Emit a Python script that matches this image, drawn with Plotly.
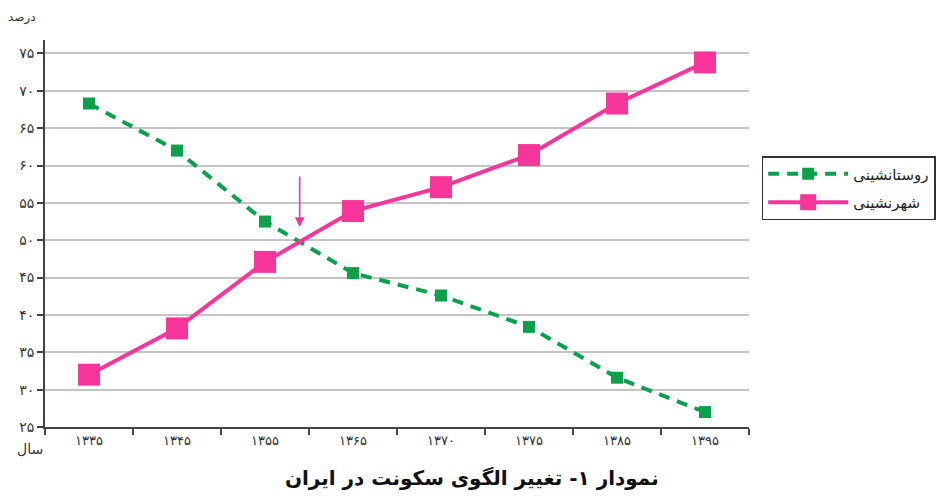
import plotly.graph_objects as go

# ---- data ----
years = ["۱۳۳۵", "۱۳۴۵", "۱۳۵۵", "۱۳۶۵", "۱۳۷۰", "۱۳۷۵", "۱۳۸۵", "۱۳۹۵"]
rural = [68.3, 62.0, 52.5, 45.6, 42.6, 38.4, 31.6, 27.0]     # روستانشینی
urban = [32.0, 38.2, 47.1, 53.9, 57.1, 61.4, 68.3, 73.8]     # شهرنشینی
y_tick_vals = [25, 30, 35, 40, 45, 50, 55, 60, 65, 70, 75]
y_tick_text = ["۲۵", "۳۰", "۳۵", "۴۰", "۴۵", "۵۰", "۵۵", "۶۰", "۶۵", "۷۰", "۷۵"]
rural_name = "روستانشینی"
urban_name = "شهرنشینی"
title_text = "<b>نمودار ۱- تغییر الگوی سکونت در ایران</b>"
y_title = "درصد"
x_title = "سال"

GREEN = "#0aa14b"
PINK = "#f7359b"
FONT = "DejaVu Sans"

fig = go.Figure()
fig.add_trace(go.Scatter(
    x=years, y=rural, name=rural_name, mode="lines+markers", legendgroup="r",
    line=dict(color=GREEN, width=4, dash="11px,8px"),
    marker=dict(symbol="square", size=12, color=GREEN),
))
fig.add_trace(go.Scatter(
    x=years, y=urban, name=urban_name, mode="lines+markers", legendgroup="u",
    line=dict(color=PINK, width=4),
    marker=dict(symbol="square", size=22, color=PINK),
))

# crossing point of the two series (between consecutive categories)
cross_x, cross_y = None, None
for i in range(len(years) - 1):
    d0 = urban[i] - rural[i]
    d1 = urban[i + 1] - rural[i + 1]
    if d0 < 0 <= d1:
        t = -d0 / (d1 - d0)
        cross_x = i + t
        cross_y = urban[i] + t * (urban[i + 1] - urban[i])
        break

if cross_x is not None:
    fig.add_annotation(
        x=cross_x, y=cross_y + 2, xref="x", yref="y",
        ax=0, ay=-52, showarrow=True, arrowhead=2, arrowsize=1.2,
        arrowwidth=1.6, arrowcolor=PINK, text="",
    )

fig.add_annotation(text=y_title, xref="paper", yref="paper", x=-0.033, y=1.057,
                   xanchor="center", yanchor="middle", showarrow=False,
                   font=dict(family=FONT, size=12, color="#333"))
fig.add_annotation(text=x_title, xref="paper", yref="paper", x=-0.021, y=-0.057,
                   xanchor="center", yanchor="middle", showarrow=False,
                   font=dict(family=FONT, size=14, color="#333"))

fig.update_layout(
    width=938, height=496,
    margin=dict(l=45, r=189, t=40, b=69, autoexpand=False),
    paper_bgcolor="white", plot_bgcolor="white",
    title=dict(text=title_text, x=0.503, y=0.036, xanchor="center", yanchor="middle",
               xref="container", yref="container",
               font=dict(family=FONT, size=20, color="#111")),
    font=dict(family=FONT, color="#333"),
    showlegend=True,
    legend=dict(
        x=1.018, y=0.70, xanchor="left", yanchor="top",
        bgcolor="white", bordercolor="#333", borderwidth=1.5,
        font=dict(family=FONT, size=15, color="#222"),
        itemwidth=80, tracegroupgap=6,
    ),
)
fig.update_xaxes(
    type="category", range=[-0.5, len(years) - 0.5], automargin=False,
    tickson="boundaries", ticks="outside", ticklen=6,
    tickcolor="#444", tickwidth=1.5,
    showline=True, linecolor="#444", linewidth=2,
    showgrid=False, zeroline=False,
    tickfont=dict(family=FONT, size=13, color="#333"),
)
fig.update_yaxes(
    range=[25, 76.8], tickvals=y_tick_vals, ticktext=y_tick_text, automargin=False,
    ticks="outside", ticklen=6, tickcolor="#444", tickwidth=1.5,
    showline=True, linecolor="#444", linewidth=2,
    showgrid=True, gridcolor="#c4c4c4", gridwidth=1.5, zeroline=False,
    tickfont=dict(family=FONT, size=14, color="#333"),
)

fig.write_html("out.html", config={"displayModeBar": False},
               post_script="document.body.style.margin='0';")
